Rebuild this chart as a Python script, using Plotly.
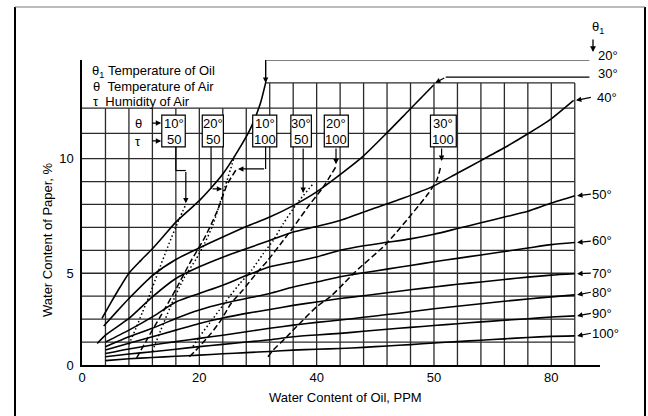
import plotly.graph_objects as go

# ---- data -------------------------------------------------------------
# Solid isotherms: water content of paper (%) vs water content of oil (ppm)
OIL_TEMPS = ["20°", "30°", "40°", "50°", "60°", "70°", "80°", "90°", "100°"]

X_20 = [3.4, 5, 6.5, 8, 10, 12, 14, 16, 18, 20, 22, 24, 26.6, 28.7, 30.4, 31.3]
Y_20 = [3.03, 3.75, 4.4, 5.0, 5.55, 6.07, 6.65, 7.23, 7.7, 8.17, 8.72, 9.33, 10.35, 11.3, 12.4, 13.3]

X_30 = [3.7, 6, 8, 12, 16, 19.7, 24, 28, 32, 36, 40, 44, 47.7, 51.7, 55.7, 59.9]
Y_30 = [2.7, 3.35, 3.9, 4.9, 5.6, 6.07, 6.58, 7.04, 7.45, 7.95, 8.55, 9.3, 10.05, 11.05, 12.1, 13.2]

X_40 = [2.6, 4, 8, 12, 16, 20, 24, 28, 32, 36, 40, 44, 49.1, 54.8, 59.9, 63.9, 67.9, 71.9, 75.8, 79.8, 83.8]
Y_40 = [1.94, 2.3, 3.03, 3.97, 4.77, 5.28, 5.7, 6.07, 6.43, 6.8, 7.04, 7.3, 7.77, 8.28, 8.8, 9.35, 9.9, 10.46, 11.05, 11.7, 12.54]

X_HOT = [4, 8, 12, 16, 20, 24, 28, 32, 36, 40, 44, 48, 52, 56, 60, 64, 68, 72, 76, 80, 84]
Y_50 = [2.0, 2.52, 3.1, 3.75, 4.12, 4.48, 4.9, 5.28, 5.49, 5.71, 6.0, 6.2, 6.35, 6.5, 6.7, 6.95, 7.2, 7.45, 7.7, 8.06, 8.38]
Y_60 = [1.8, 2.23, 2.6, 3.03, 3.4, 3.68, 3.9, 4.12, 4.4, 4.62, 4.85, 5.02, 5.18, 5.34, 5.5, 5.65, 5.8, 5.95, 6.1, 6.25, 6.34]
Y_70 = [1.65, 1.95, 2.23, 2.52, 2.81, 3.05, 3.25, 3.42, 3.6, 3.75, 3.9, 4.02, 4.15, 4.28, 4.4, 4.52, 4.62, 4.73, 4.83, 4.92, 4.98]
Y_80 = [1.5, 1.7, 1.87, 2.02, 2.16, 2.3, 2.45, 2.6, 2.74, 2.86, 2.96, 3.08, 3.2, 3.32, 3.45, 3.56, 3.67, 3.78, 3.88, 3.97, 4.06]
Y_90 = [1.36, 1.48, 1.58, 1.69, 1.8, 1.9, 2.0, 2.1, 2.23, 2.31, 2.38, 2.47, 2.56, 2.64, 2.72, 2.8, 2.88, 2.95, 3.02, 3.09, 3.14]
Y_100 = [1.19, 1.27, 1.33, 1.38, 1.43, 1.49, 1.54, 1.59, 1.65, 1.69, 1.72, 1.77, 1.83, 1.89, 1.96, 2.02, 2.08, 2.14, 2.2, 2.25, 2.27]

# Air conditions (temperature of air θ, humidity of air τ)
AIR_THETA = ["10°", "20°", "10°", "30°", "20°", "30°"]
AIR_TAU = ["50", "50", "100", "50", "100", "100"]

X_10_50 = [8.0, 9.2, 10.3, 11.4, 12.9, 14.6, 16.6, 17.7]
Y_10_50 = [1.9, 2.6, 3.3, 3.97, 5.0, 6.14, 7.38, 8.0]
X_20_50 = [12.0, 13.4, 15.0, 17.4, 19.4, 20.9, 22.3, 24.0, 26.0]
Y_20_50 = [1.6, 2.5, 3.5, 4.8, 5.6, 6.3, 7.1, 8.46, 10.1]
X_10_100 = [9.3, 11.5, 14.0, 16.0, 18.5, 21.0, 23.1, 24.8, 26.5]
Y_10_100 = [1.3, 2.3, 3.4, 4.3, 5.5, 6.6, 7.74, 8.9, 9.6]
X_30_50 = [18.9, 20, 21.7, 23.4, 25.1, 26.9, 28.9, 30.9, 32.6, 34.3, 36.6, 39.4]
Y_30_50 = [1.8, 2.23, 2.81, 3.39, 3.97, 4.55, 5.13, 5.86, 6.43, 7.16, 8.03, 8.9]
X_20_100 = [18.3, 20, 22, 23.7, 25.4, 27.4, 29.7, 31.7, 34.3, 36, 38.9, 41.1, 43.4]
Y_20_100 = [1.36, 1.8, 2.38, 2.96, 3.68, 4.26, 4.99, 5.57, 6.43, 7.0, 8.03, 8.75, 9.7]
X_30_100 = [31.7, 32.6, 34.9, 37.1, 40, 42.3, 44.6, 46.6, 51.7, 55.4, 59.1, 60.5, 61.2]
Y_30_100 = [1.36, 1.65, 2.23, 2.81, 3.54, 3.97, 4.55, 5.07, 6.24, 7.33, 8.5, 9.08, 9.7]

X_TICKS = [0, 20, 40, 60, 80]
X_TICK_TEXT = ["0", "20", "40", "50", "80"]
Y_TICKS = [1, 5, 10]
Y_TICK_TEXT = ["0", "5", "10"]

GRID_X = [4, 8, 12, 16, 20, 24, 28, 32, 36, 40, 44, 48, 52, 56, 60, 64, 68, 72, 76, 80, 84]
GRID_Y = [2, 3, 4, 5, 6, 7, 8, 9, 10, 11.1, 12.2]
GRID_TOP = 13.3

# ---- layout helpers ---------------------------------------------------
W, H = 648, 416
ML, MR, MT, MB = 82, 48, 60, 51
PW, PH = W - ML - MR, H - MT - MB
FONT = "Liberation Sans, Arial, sans-serif"
FS = 13


def px(x):
    return (x - ML) / PW


def py(y):
    return (H - MB - y) / PH


def vy(y):
    # pixel row -> paper-content value on the y axis
    return 1 + (H - MB - y) / PH * 13.3


fig = go.Figure()

solid = [(X_20, Y_20), (X_30, Y_30), (X_40, Y_40), (X_HOT, Y_50), (X_HOT, Y_60),
         (X_HOT, Y_70), (X_HOT, Y_80), (X_HOT, Y_90), (X_HOT, Y_100)]
for name, (xs, ys) in zip(OIL_TEMPS, solid):
    fig.add_trace(go.Scatter(x=xs, y=ys, mode="lines", name=name,
                             line=dict(color="black", width=1.6, shape="spline", smoothing=0.6)))

air = [(X_10_50, Y_10_50), (X_20_50, Y_20_50), (X_10_100, Y_10_100),
       (X_30_50, Y_30_50), (X_20_100, Y_20_100), (X_30_100, Y_30_100)]
for th, tau, (xs, ys) in zip(AIR_THETA, AIR_TAU, air):
    dash = "1.5px,2.5px" if tau == "50" else "6px,3px"
    fig.add_trace(go.Scatter(x=xs, y=ys, mode="lines", name=f"{th} / {tau}",
                             line=dict(color="black", width=1.5, dash=dash, shape="spline", smoothing=0.6)))

shapes = []
grid_line = dict(color="#2a2a2a", width=1.3)
for gx in GRID_X:
    top = GRID_TOP if gx >= 32 else GRID_Y[-1]
    shapes.append(dict(type="line", xref="x", yref="y", x0=gx, x1=gx, y0=1, y1=top, line=grid_line, layer="below"))
for gy in GRID_Y:
    shapes.append(dict(type="line", xref="x", yref="y", x0=0, x1=84, y0=gy, y1=gy, line=grid_line, layer="below"))
shapes.append(dict(type="line", xref="x", yref="y", x0=X_20[-1], x1=84, y0=GRID_TOP, y1=GRID_TOP,
                   line=grid_line, layer="below"))

# boxes for the air conditions
BOX_L = [13.6, 20.5, 29.1, 35.6, 41.3, 59.4]
BOX_R = [17.6, 24.1, 33.2, 39.1, 45.4, 63.8]
BOX_BOT, BOX_TOP = 10.51, 11.9
for l, r in zip(BOX_L, BOX_R):
    shapes.append(dict(type="rect", xref="x", yref="y", x0=l, x1=r, y0=BOX_BOT, y1=BOX_TOP,
                       line=dict(color="black", width=1.2), fillcolor="white", layer="above"))

# leader polylines from boxes to curves
leaders = [
    ([16.0, 16.0, 17.7], [BOX_BOT, 9.48, 9.48]),
    ([22.0, 22.0], [BOX_BOT, 8.68]),
    ([31.3, 31.3], [BOX_BOT, 9.55]),
    ([X_20[-1], X_20[-1], 86.5], [GRID_TOP, 14.3, 14.3]),
    ([62.0, 86.5], [13.55, 13.55]),
]
for xs, ys in leaders:
    for i in range(len(xs) - 1):
        shapes.append(dict(type="line", xref="x", yref="y", x0=xs[i], x1=xs[i + 1], y0=ys[i], y1=ys[i + 1],
                           line=dict(color="black", width=1.2)))

# figure frame
shapes += [
    dict(type="line", xref="paper", yref="paper", x0=px(15), x1=px(15), y0=py(7), y1=py(420), line=dict(color="black", width=2)),
    dict(type="line", xref="paper", yref="paper", x0=px(645), x1=px(645), y0=py(7), y1=py(420), line=dict(color="black", width=2)),
    dict(type="line", xref="paper", yref="paper", x0=px(15), x1=px(645), y0=py(7), y1=py(7), line=dict(color="#777", width=1)),
]

ann = []


def text(x, y, s, anchor="left", size=FS, xref="paper", yref="paper"):
    ann.append(dict(x=x, y=y, xref=xref, yref=yref, text=s, showarrow=False, xanchor=anchor, yanchor="middle",
                    font=dict(family=FONT, size=size, color="black")))


def arrow(x, y, ax, ay):
    ann.append(dict(x=x, y=y, ax=ax, ay=ay, xref="x", yref="y", axref="x", ayref="y", text="", showarrow=True,
                    arrowhead=2, arrowsize=0.9, arrowwidth=1.2, arrowcolor="black"))


# legend block
text(px(90), py(72), "θ<sub>1</sub> Temperature of Oil")
text(px(91), py(86.5), "θ  Temperature of Air")
text(px(91), py(101), "τ  Humidity of Air")

# θ / τ row labels with arrows to the first box
text(px(138), py(123), "θ", anchor="center")
text(px(138), py(141), "τ", anchor="center")
arrow(13.5, 11.55, 11.7, 11.55)
arrow(13.5, 10.77, 11.7, 10.77)

# box texts
for l, r, th, tau in zip(BOX_L, BOX_R, AIR_THETA, AIR_TAU):
    c = (l + r) / 2
    text(c, 11.55, th, anchor="center", xref="x", yref="y")
    text(c, 10.82, tau, anchor="center", xref="x", yref="y")

# arrows from boxes to curves
arrow(17.7, 8.05, 17.7, 9.48)
arrow(23.9, 8.68, 22.0, 8.68)
arrow(26.6, 9.55, 31.3, 9.55)
arrow(37.7, 8.5, 37.7, BOX_BOT)
arrow(43.3, 9.75, 43.3, BOX_BOT)
arrow(61.3, 9.9, 61.3, BOX_BOT)
arrow(X_20[-1], GRID_TOP, X_20[-1], 14.3)
arrow(X_30[-1] + 0.3, 13.3, 62.0, 13.55)

# oil temperature labels at the right
text(px(590), py(27), "θ<sub>1</sub>")
ann.append(dict(x=px(593), y=py(52), ax=0, ay=-14, xref="paper", yref="paper", text="", showarrow=True,
                arrowhead=2, arrowsize=0.9, arrowwidth=1.3, arrowcolor="black"))
label_y = [56, 73, 97, 194, 241, 273, 292, 313, 333]
label_x = [596, 596, 595, 590, 590, 590, 590, 590, 590]
for i, (name, ly, lx) in enumerate(zip(OIL_TEMPS, label_y, label_x)):
    text(px(lx), py(ly), name)
    if i >= 2:
        xs, ys = solid[i]
        arrow(xs[-1] + 0.4, ys[-1], 87.0, vy(ly))

# axis titles
text(px(345), py(397), "Water Content of Oil, PPM", anchor="center")
ann.append(dict(x=px(47), y=py(240), xref="paper", yref="paper", text="Water Content of Paper, %", showarrow=False,
                textangle=-90, xanchor="center", yanchor="middle", font=dict(family=FONT, size=FS, color="black")))

fig.update_layout(
    width=W, height=H, margin=dict(l=ML, r=MR, t=MT, b=MB),
    paper_bgcolor="white", plot_bgcolor="white", showlegend=False,
    shapes=shapes, annotations=ann,
    xaxis=dict(range=[0, 88.3], tickvals=X_TICKS, ticktext=X_TICK_TEXT, showgrid=False, zeroline=False,
               showline=True, linecolor="black", linewidth=1.5, ticks="",
               tickfont=dict(family=FONT, size=FS, color="black")),
    yaxis=dict(range=[1, 14.3], tickvals=Y_TICKS, ticktext=Y_TICK_TEXT, showgrid=False, zeroline=False,
               showline=True, linecolor="black", linewidth=1.5, ticks="", ticklabelstandoff=4,
               tickfont=dict(family=FONT, size=FS, color="black")),
)

fig.write_html("out.html")
